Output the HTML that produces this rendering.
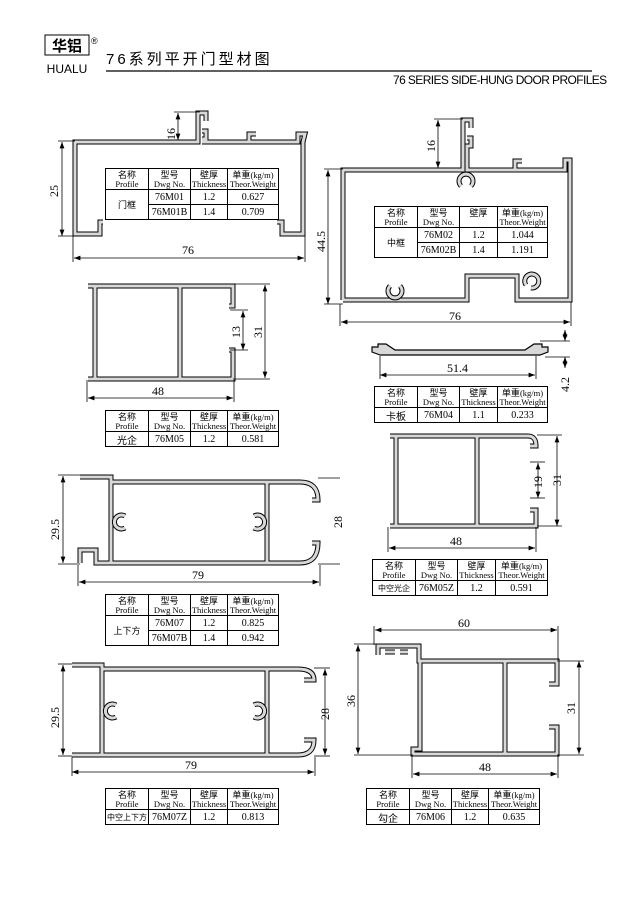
<!DOCTYPE html>
<html><head><meta charset="utf-8"><style>
html,body{margin:0;padding:0;background:#fff;}
body{width:640px;height:905px;position:relative;overflow:hidden;font-family:"Liberation Serif","Noto Serif CJK SC",serif;}
.t{position:absolute;border-collapse:collapse;font-size:8.5px;line-height:9px;text-align:center;background:#fff;}
.t td{border:1px solid #000;padding:0;}
.t td.h{height:20px;}
.t td.r{height:14px;font-size:10px;}
.t .cn{font-family:"Noto Sans CJK SC",sans-serif;font-size:9px;}
</style></head><body>
<svg width="640" height="905" style="position:absolute;left:0;top:0" xmlns="http://www.w3.org/2000/svg">
<defs>
<marker id="a" markerWidth="8" markerHeight="6" refX="8" refY="3" orient="auto-start-reverse"><path d="M0,0 L8,3 L0,6 z" fill="#000"/></marker>
<style>
.o{fill:none;stroke:#000;stroke-width:5;stroke-linejoin:miter}
.i{fill:none;stroke:#d8d8d8;stroke-width:3;stroke-linejoin:miter}
.d{stroke:#000;stroke-width:0.8;fill:none}
.dm{stroke:#000;stroke-width:0.8;marker-start:url(#a);marker-end:url(#a)}
.lb{font-family:"Liberation Serif",serif;font-size:12px;}
</style>
</defs>
<!-- header -->
<rect x="45" y="35" width="44" height="20" fill="#fff" stroke="#000"/>
<text x="67" y="51" font-family="Noto Sans CJK SC,sans-serif" font-size="15" font-weight="bold" text-anchor="middle">华铝</text>
<text x="91" y="44" font-size="9" font-family="Liberation Sans,sans-serif">®</text>
<text x="67" y="73" font-family="Liberation Sans,sans-serif" font-size="12" text-anchor="middle">HUALU</text>
<text x="106" y="64" font-family="Liberation Sans,Noto Sans CJK SC,sans-serif" font-size="15" letter-spacing="3">76系列平开门型材图</text>
<line x1="106" y1="71" x2="592" y2="71" stroke="#000" stroke-width="1.2"/>
<text x="393" y="84" font-family="Liberation Sans,sans-serif" font-size="12" letter-spacing="-0.6">76 SERIES SIDE-HUNG DOOR PROFILES</text>

<!-- 76M01 -->
<path d="M103,222 L100,222 L100,234 L75,234 L75,142 L198,142 L198,113 L206,113 L206,121 M202,131 L206,131 L206,139 L202,139 M202,142 L249,142 L249,134 L256,134 M249,142 L298,142 L298,134 L305,134 L303,142 L303,234 L282,234 L282,222 L277,222" class="o"/>
<path d="M103,222 L100,222 L100,234 L75,234 L75,142 L198,142 L198,113 L206,113 L206,121 M202,131 L206,131 L206,139 L202,139 M202,142 L249,142 L249,134 L256,134 M249,142 L298,142 L298,134 L305,134 L303,142 L303,234 L282,234 L282,222 L277,222" class="i"/>
<line class="dm" x1="62" y1="142" x2="62" y2="236"/><line class="d" x1="58" y1="141" x2="75" y2="141"/><line class="d" x1="58" y1="236" x2="75" y2="236"/>
<text class="lb" transform="translate(58,197) rotate(-90)">25</text>
<line class="dm" x1="178" y1="113" x2="178" y2="140"/><line class="d" x1="174" y1="112" x2="200" y2="112"/>
<text class="lb" transform="translate(175,140) rotate(-90)">16</text>
<line class="dm" x1="74" y1="258" x2="304" y2="258"/><line class="d" x1="73" y1="236" x2="73" y2="262"/><line class="d" x1="305" y1="236" x2="305" y2="262"/>
<text class="lb" x="182" y="254">76</text>

<!-- 76M02 -->
<path d="M343,300 L343,170 L463,170 L463,120 L471,120 L471,128 M467,138 L471,138 L471,146 L467,146 L467,170 L515,170 L515,161 L522,161 M515,170 L565,170 L565,160 L570,160 L570,300 L517,300 L517,276 L467,276 L467,300 L343,300" class="o"/>
<path d="M343,300 L343,170 L463,170 L463,120 L471,120 L471,128 M467,138 L471,138 L471,146 L467,146 L467,170 L515,170 L515,161 L522,161 M515,170 L565,170 L565,160 L570,160 L570,300 L517,300 L517,276 L467,276 L467,300 L343,300" class="i"/>
<path d="M461,186 A7,7 0 1 1 471,186" class="o"/><path d="M461,186 A7,7 0 1 1 471,186" class="i"/>
<path d="M390,286 A7,7 0 1 0 400,286" class="o"/><path d="M390,286 A7,7 0 1 0 400,286" class="i"/>
<path d="M531,288 A7,7 0 1 0 526,285" class="o"/><path d="M531,288 A7,7 0 1 0 526,285" class="i"/>
<line class="dm" x1="328" y1="170" x2="328" y2="304"/><line class="d" x1="324" y1="169" x2="343" y2="169"/><line class="d" x1="324" y1="304" x2="343" y2="304"/>
<text class="lb" transform="translate(325,252) rotate(-90)">44.5</text>
<line class="dm" x1="438" y1="120" x2="438" y2="168"/><line class="d" x1="434" y1="119" x2="463" y2="119"/>
<text class="lb" transform="translate(435,152) rotate(-90)">16</text>
<line class="dm" x1="341" y1="322" x2="570" y2="322"/><line class="d" x1="340" y1="304" x2="340" y2="326"/><line class="d" x1="571" y1="302" x2="571" y2="326"/>
<text class="lb" x="449" y="320">76</text>

<!-- 76M04 -->
<path d="M380,355 L372,352 L372,347 L378,347 L378,344 L386,344 L395,350 L525,350 L534,344 L542,344 L542,347 L548,347 L548,352 L540,355 Z" fill="#d8d8d8" stroke="#000" stroke-width="1.2"/>
<line class="dm" x1="380" y1="375" x2="535" y2="375"/><line class="d" x1="380" y1="356" x2="380" y2="379"/><line class="d" x1="536" y1="356" x2="536" y2="379"/>
<text class="lb" x="447" y="372">51.4</text>
<line class="d" x1="540" y1="341" x2="570" y2="341"/><line class="d" x1="545" y1="357" x2="570" y2="357"/>
<line class="dm" x1="565" y1="330" x2="565" y2="341"/><line class="dm" x1="565" y1="368" x2="565" y2="357"/>
<text class="lb" transform="translate(569,392) rotate(-90)">4.2</text>

<!-- 76M05 -->
<path d="M88,286 L233,286 L233,306 L229,306 M229,350 L233,350 L233,379 L88,379 M95,286 L95,379 M180,286 L180,379" class="o"/>
<path d="M88,286 L233,286 L233,306 L229,306 M229,350 L233,350 L233,379 L88,379 M95,286 L95,379 M180,286 L180,379" class="i"/>
<line class="dm" x1="265" y1="285" x2="265" y2="378"/><line class="d" x1="233" y1="284" x2="270" y2="284"/><line class="d" x1="233" y1="379" x2="270" y2="379"/>
<text class="lb" transform="translate(262,338) rotate(-90)">31</text>
<line class="dm" x1="243" y1="311" x2="243" y2="350"/><line class="d" x1="230" y1="310" x2="248" y2="310"/><line class="d" x1="230" y1="350" x2="248" y2="350"/>
<text class="lb" transform="translate(240,338) rotate(-90)">13</text>
<line class="dm" x1="88" y1="398" x2="233" y2="398"/><line class="d" x1="87" y1="380" x2="87" y2="402"/><line class="d" x1="234" y1="380" x2="234" y2="402"/>
<text class="lb" x="152" y="395">48</text>

<!-- 76M05Z -->
<path d="M390,436 L528,436 Q536,436 536,446 L530,446 M530,510 L536,510 L536,526 L390,526 M396,436 L396,526 M477,436 L477,526" class="o"/>
<path d="M390,436 L528,436 Q536,436 536,446 L530,446 M530,510 L536,510 L536,526 L390,526 M396,436 L396,526 M477,436 L477,526" class="i"/>
<line class="dm" x1="538" y1="463" x2="538" y2="498"/><line class="d" x1="530" y1="462" x2="545" y2="462"/><line class="d" x1="530" y1="498" x2="545" y2="498"/>
<text class="lb" transform="translate(542,488) rotate(-90)">19</text>
<line class="dm" x1="557" y1="436" x2="557" y2="526"/><line class="d" x1="537" y1="435" x2="562" y2="435"/><line class="d" x1="537" y1="526" x2="562" y2="526"/>
<text class="lb" transform="translate(561,486) rotate(-90)">31</text>
<line class="dm" x1="389" y1="548" x2="535" y2="548"/><line class="d" x1="388" y1="527" x2="388" y2="552"/><line class="d" x1="536" y1="527" x2="536" y2="552"/>
<text class="lb" x="450" y="545">48</text>

<!-- 76M07 -->
<path d="M80,477 L111,477 L111,482 L300,482 Q318,482 318,500 L312,500 M312,543 L318,543 Q318,563 300,563 L96,563 L96,550 L80,550 L80,563 M111,482 L111,563 M267,482 L267,563" class="o"/>
<path d="M80,477 L111,477 L111,482 L300,482 Q318,482 318,500 L312,500 M312,543 L318,543 Q318,563 300,563 L96,563 L96,550 L80,550 L80,563 M111,482 L111,563 M267,482 L267,563" class="i"/>
<path d="M125,516 A7,7 0 1 0 125,528" class="o"/><path d="M125,516 A7,7 0 1 0 125,528" class="i"/>
<path d="M254,516 A7,7 0 1 1 254,528" class="o"/><path d="M254,516 A7,7 0 1 1 254,528" class="i"/>
<line class="dm" x1="63" y1="476" x2="63" y2="563"/><line class="d" x1="58" y1="475" x2="80" y2="475"/><line class="d" x1="58" y1="564" x2="80" y2="564"/>
<text class="lb" transform="translate(59,540) rotate(-90)">29.5</text>
<line class="d" x1="318" y1="478" x2="340" y2="478"/><line class="d" x1="318" y1="564" x2="340" y2="564"/>
<text class="lb" transform="translate(342,528) rotate(-90)">28</text>
<line class="dm" x1="79" y1="582" x2="319" y2="582"/><line class="d" x1="78" y1="565" x2="78" y2="586"/><line class="d" x1="320" y1="565" x2="320" y2="586"/>
<text class="lb" x="192" y="579">79</text>

<!-- 76M07Z -->
<path d="M72,665 L102,665 L102,669 L298,669 Q314,669 314,680 L304,680 M304,740 L314,740 Q314,755 298,755 L72,755 M102,669 L102,755 M267,669 L267,755" class="o"/>
<path d="M72,665 L102,665 L102,669 L298,669 Q314,669 314,680 L304,680 M304,740 L314,740 Q314,755 298,755 L72,755 M102,669 L102,755 M267,669 L267,755" class="i"/>
<path d="M116,705 A7,7 0 1 0 116,717" class="o"/><path d="M116,705 A7,7 0 1 0 116,717" class="i"/>
<path d="M254,705 A7,7 0 1 1 254,717" class="o"/><path d="M254,705 A7,7 0 1 1 254,717" class="i"/>
<line class="dm" x1="63" y1="665" x2="63" y2="755"/><line class="d" x1="58" y1="664" x2="72" y2="664"/><line class="d" x1="58" y1="756" x2="72" y2="756"/>
<text class="lb" transform="translate(59,728) rotate(-90)">29.5</text>
<line class="dm" x1="325" y1="669" x2="325" y2="755"/><line class="d" x1="314" y1="668" x2="330" y2="668"/><line class="d" x1="314" y1="756" x2="330" y2="756"/>
<text class="lb" transform="translate(329,720) rotate(-90)">28</text>
<line class="dm" x1="72" y1="772" x2="314" y2="772"/><line class="d" x1="72" y1="757" x2="72" y2="776"/><line class="d" x1="315" y1="757" x2="315" y2="776"/>
<text class="lb" x="185" y="769">79</text>

<!-- 76M06 -->
<path d="M378,655 L378,646 L419,646 L419,661 L557,661 L557,684 L549,684 M549,727 L557,727 L557,754 L413,754 L413,749 L420,749 L420,661 M505,661 L505,754 M385,652 L395,652 M400,652 L408,652" class="o"/>
<path d="M378,655 L378,646 L419,646 L419,661 L557,661 L557,684 L549,684 M549,727 L557,727 L557,754 L413,754 L413,749 L420,749 L420,661 M505,661 L505,754 M385,652 L395,652 M400,652 L408,652" class="i"/>
<line class="dm" x1="375" y1="630" x2="557" y2="630"/><line class="d" x1="374" y1="626" x2="374" y2="645"/><line class="d" x1="558" y1="626" x2="558" y2="660"/>
<text class="lb" x="458" y="627">60</text>
<line class="dm" x1="358" y1="645" x2="358" y2="754"/><line class="d" x1="354" y1="644" x2="378" y2="644"/><line class="d" x1="354" y1="755" x2="413" y2="755"/>
<text class="lb" transform="translate(355,707) rotate(-90)">36</text>
<line class="dm" x1="579" y1="661" x2="579" y2="754"/><line class="d" x1="557" y1="661" x2="584" y2="661"/><line class="d" x1="557" y1="755" x2="584" y2="755"/>
<text class="lb" transform="translate(575,714) rotate(-90)">31</text>
<line class="dm" x1="413" y1="774" x2="557" y2="774"/><line class="d" x1="412" y1="756" x2="412" y2="778"/><line class="d" x1="558" y1="756" x2="558" y2="778"/>
<text class="lb" x="479" y="771">48</text>
</svg>

<table class="t" style="left:105px;top:168px;width:174px">
<tr><td class="h" style="width:42px"><span class="cn">名称</span><br>Profile</td><td class="h" style="width:41px"><span class="cn">型号</span><br>Dwg No.</td><td class="h" style="width:36px"><span class="cn">壁厚</span><br>Thickness</td><td class="h"><span class="cn">单重</span>(kg/m)<br>Theor.Weight</td></tr>
<tr><td rowspan="2" class="cn">门框</td><td class="r">76M01</td><td class="r">1.2</td><td class="r">0.627</td></tr>
<tr><td class="r">76M01B</td><td class="r">1.4</td><td class="r">0.709</td></tr></table>

<table class="t" style="left:374px;top:206px;width:174px">
<tr><td class="h" style="width:42px"><span class="cn">名称</span><br>Profile</td><td class="h" style="width:41px"><span class="cn">型号</span><br>Dwg No.</td><td class="h" style="width:37px"><span class="cn">壁厚</span><br>&nbsp;</td><td class="h"><span class="cn">单重</span>(kg/m)<br>Theor.Weight</td></tr>
<tr><td rowspan="2" class="cn">中框</td><td class="r">76M02</td><td class="r">1.2</td><td class="r">1.044</td></tr>
<tr><td class="r">76M02B</td><td class="r">1.4</td><td class="r">1.191</td></tr></table>

<table class="t" style="left:374px;top:386px;width:174px">
<tr><td class="h" style="width:42px"><span class="cn">名称</span><br>Profile</td><td class="h" style="width:41px"><span class="cn">型号</span><br>Dwg No.</td><td class="h" style="width:37px"><span class="cn">壁厚</span><br>Thickness</td><td class="h"><span class="cn">单重</span>(kg/m)<br>Theor.Weight</td></tr>
<tr><td class="cn r">卡板</td><td class="r">76M04</td><td class="r">1.1</td><td class="r">0.233</td></tr></table>

<table class="t" style="left:105px;top:410px;width:174px">
<tr><td class="h" style="width:42px"><span class="cn">名称</span><br>Profile</td><td class="h" style="width:41px"><span class="cn">型号</span><br>Dwg No.</td><td class="h" style="width:36px"><span class="cn">壁厚</span><br>Thickness</td><td class="h"><span class="cn">单重</span>(kg/m)<br>Theor.Weight</td></tr>
<tr><td class="cn r">光企</td><td class="r">76M05</td><td class="r">1.2</td><td class="r">0.581</td></tr></table>

<table class="t" style="left:372px;top:559px;width:176px">
<tr><td class="h" style="width:42px"><span class="cn">名称</span><br>Profile</td><td class="h" style="width:41px"><span class="cn">型号</span><br>Dwg No.</td><td class="h" style="width:37px"><span class="cn">壁厚</span><br>Thickness</td><td class="h"><span class="cn">单重</span>(kg/m)<br>Theor.Weight</td></tr>
<tr><td class="cn r" style="font-size:8px">中空光企</td><td class="r">76M05Z</td><td class="r">1.2</td><td class="r">0.591</td></tr></table>

<table class="t" style="left:105px;top:594px;width:174px">
<tr><td class="h" style="width:42px"><span class="cn">名称</span><br>Profile</td><td class="h" style="width:41px"><span class="cn">型号</span><br>Dwg No.</td><td class="h" style="width:36px"><span class="cn">壁厚</span><br>Thickness</td><td class="h"><span class="cn">单重</span>(kg/m)<br>Theor.Weight</td></tr>
<tr><td rowspan="2" class="cn">上下方</td><td class="r">76M07</td><td class="r">1.2</td><td class="r">0.825</td></tr>
<tr><td class="r">76M07B</td><td class="r">1.4</td><td class="r">0.942</td></tr></table>

<table class="t" style="left:105px;top:788px;width:174px">
<tr><td class="h" style="width:42px"><span class="cn">名称</span><br>Profile</td><td class="h" style="width:41px"><span class="cn">型号</span><br>Dwg No.</td><td class="h" style="width:36px"><span class="cn">壁厚</span><br>Thickness</td><td class="h"><span class="cn">单重</span>(kg/m)<br>Theor.Weight</td></tr>
<tr><td class="cn r" style="font-size:8px">中空上下方</td><td class="r">76M07Z</td><td class="r">1.2</td><td class="r">0.813</td></tr></table>

<table class="t" style="left:366px;top:788px;width:174px">
<tr><td class="h" style="width:42px"><span class="cn">名称</span><br>Profile</td><td class="h" style="width:41px"><span class="cn">型号</span><br>Dwg No.</td><td class="h" style="width:36px"><span class="cn">壁厚</span><br>Thickness</td><td class="h"><span class="cn">单重</span>(kg/m)<br>Theor.Weight</td></tr>
<tr><td class="cn r">勾企</td><td class="r">76M06</td><td class="r">1.2</td><td class="r">0.635</td></tr></table>
</body></html>
